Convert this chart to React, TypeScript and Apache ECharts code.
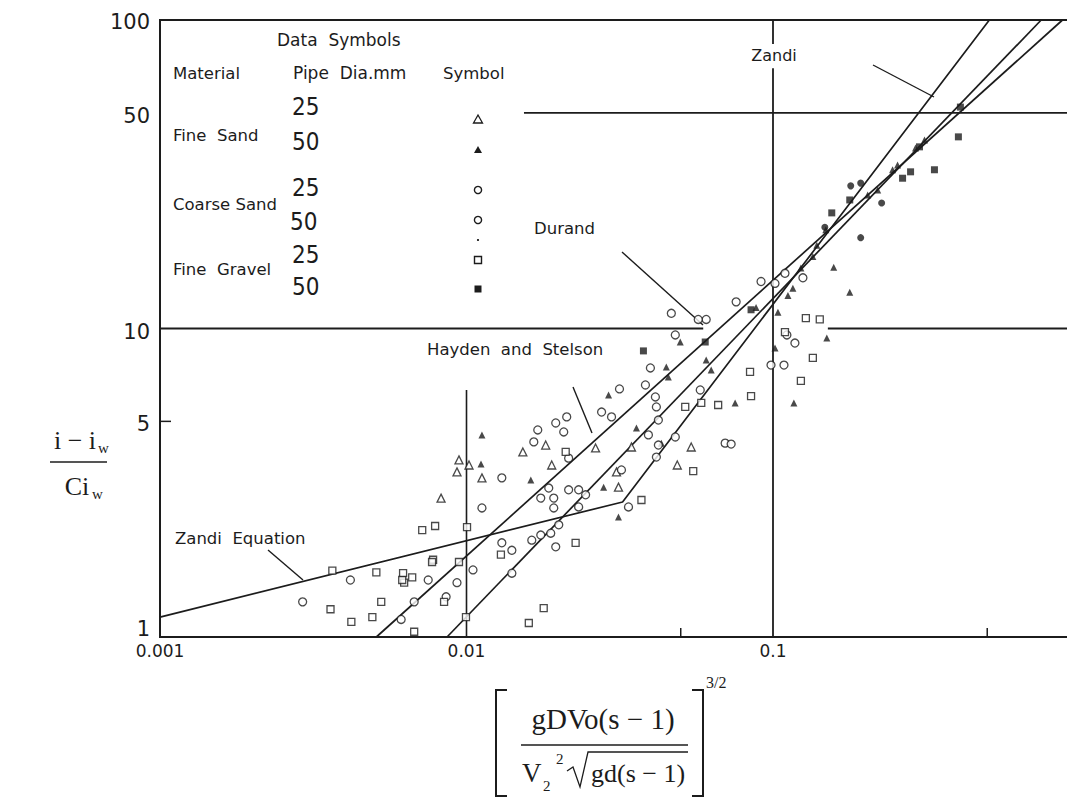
import React, { useEffect, useRef } from "react";
import * as echarts from "echarts";

// ---- axis ticks ----
const xTickValues = [0.001, 0.01, 0.1];
const xTickLabels = ["0.001", "0.01", "0.1"];
const yTickValues = [1, 5, 10, 50, 100];
const yTickLabels = ["1", "5", "10", "50", "100"];
const xMinorTicks = [0.05, 0.5];
const yMinorTicks = [5];

// ---- theory lines ----
const zandiEquation = [[0.001, 1.16], [0.0323, 2.74], [0.508, 100]];
const haydenStelson = [[0.00508, 1], [0.88, 100]];
const durand = [[0.00864, 1], [0.75, 100]];

// ---- partial reference lines ----
const line10a = [[0.001, 10], [0.0592, 10]];
const line10b = [[0.151, 10], [1, 10]];
const line50 = [[0.0154, 50], [1, 50]];
const vline01a = [[0.1, 1], [0.1, 69.8]];
const vline01b = [[0.1, 83.6], [0.1, 100]];
const vline001 = [[0.01, 1], [0.01, 6.32]];

// ---- data ----
const fineSand25 = [
  [0.00826, 2.82], [0.00945, 3.75], [0.00931, 3.43], [0.01019, 3.61], [0.01123, 3.28],
  [0.01527, 3.98], [0.01813, 4.19], [0.01897, 3.61], [0.02637, 4.1], [0.03132, 3.06],
  [0.03453, 4.13], [0.03086, 3.43], [0.04872, 3.61], [0.0541, 4.13],
];
const fineSand50 = [
  [0.01123, 4.52], [0.01115, 3.64], [0.01621, 3.23], [0.02907, 6.09], [0.02801, 3.06],
  [0.03132, 2.45], [0.03585, 4.76], [0.04323, 4.25], [0.04487, 7.5], [0.04555, 6.96],
  [0.04983, 9.04], [0.06054, 7.91], [0.06286, 7.34], [0.07524, 5.74], [0.1015, 8.65],
  [0.117, 5.74], [0.1498, 9.32], [0.1578, 15.8], [0.178, 13.1], [0.08805, 11.7],
  [0.1038, 11.3], [0.1119, 12.8], [0.1161, 13.5], [0.1233, 15.7], [0.1349, 17.1],
  [0.139, 18.6], [0.1487, 20.9], [0.2037, 27.1], [0.2196, 28.1], [0.2455, 32.7],
  [0.2549, 33.9], [0.2917, 38.5], [0.3121, 40.8],
];
const coarseSand25 = [
  [0.00292, 1.3], [0.00418, 1.53], [0.00612, 1.14], [0.00675, 1.3], [0.0075, 1.53],
  [0.00858, 1.35], [0.00931, 1.5], [0.0105, 1.65], [0.01123, 2.62], [0.01304, 3.28],
  [0.01406, 1.91], [0.01406, 1.61], [0.01304, 2.02], [0.01633, 2.06], [0.01747, 2.14],
  [0.01883, 2.17], [0.01955, 1.96], [0.01658, 4.29], [0.01708, 4.69], [0.01955, 4.94],
  [0.02123, 5.17], [0.02076, 4.62], [0.01855, 3.04], [0.01747, 2.82], [0.01926, 2.82],
  [0.01926, 2.62], [0.02154, 3.0], [0.02322, 3.0], [0.02447, 2.89], [0.02322, 2.64],
  [0.02, 2.31], [0.02154, 3.8], [0.02759, 5.36], [0.02973, 5.17], [0.03156, 6.37],
  [0.03377, 2.64], [0.03203, 3.48], [0.03922, 4.52], [0.04164, 5.57], [0.04133, 6.0],
  [0.04227, 5.05], [0.04227, 4.19], [0.04164, 3.83], [0.03981, 7.45], [0.03835, 6.56],
  [0.04659, 11.2], [0.048, 9.53], [0.05789, 6.32], [0.06981, 4.25], [0.07302, 4.22],
  [0.09851, 7.61], [0.1086, 7.61], [0.111, 9.53], [0.1179, 8.97], [0.06054, 10.7],
  [0.05703, 10.7], [0.07581, 12.2], [0.09141, 14.2], [0.1015, 14.0], [0.1094, 15.1],
  [0.1252, 14.6], [0.048, 4.45],
];
const coarseSand50 = [
  [0.1793, 29.0], [0.1932, 29.6], [0.2262, 25.5], [0.1476, 21.3], [0.1932, 19.7],
];
const fineGravel25 = [
  [0.00365, 1.64], [0.0036, 1.23], [0.00421, 1.12], [0.00493, 1.16], [0.00508, 1.62],
  [0.00527, 1.3], [0.00621, 1.61], [0.00626, 1.5], [0.00665, 1.56], [0.00675, 1.04],
  [0.00778, 1.78], [0.00717, 2.22], [0.0079, 2.29], [0.01004, 2.27], [0.00845, 1.3],
  [0.00996, 1.16], [0.00945, 1.75], [0.00772, 1.75], [0.00617, 1.53], [0.01295, 1.85],
  [0.01786, 1.24], [0.01597, 1.11], [0.02107, 3.98], [0.0227, 2.02], [0.03722, 2.78],
  [0.05492, 3.45], [0.05172, 5.57], [0.05833, 5.74], [0.06623, 5.65], [0.0848, 6.04],
  [0.08416, 7.23], [0.1094, 9.74], [0.1233, 6.76], [0.1349, 8.03], [0.128, 10.8],
  [0.1421, 10.7],
];
const fineGravel50 = [
  [0.03778, 8.46], [0.0601, 9.04], [0.0848, 11.5], [0.1555, 23.7], [0.178, 26.1],
  [0.2647, 30.7], [0.2811, 32.2], [0.3363, 32.7], [0.4026, 41.8], [0.3006, 38.8],
  [0.4087, 52.2],
];

const INK = "#1c1c1c";
const SANS = "DejaVu Sans, Verdana, sans-serif";
const NARROW = "DejaVu Sans Condensed, Liberation Sans Narrow, DejaVu Sans, sans-serif";
const SERIF = "Liberation Serif, Times New Roman, serif";

function txt(text: string, x: number, y: number, size: number, family: string, align = "left", va = "middle") {
  return {
    type: "text",
    x,
    y,
    silent: true,
    style: {
      text,
      fill: INK,
      font: `${size}px ${family}`,
      fontSize: size,
      fontFamily: family,
      align,
      verticalAlign: va,
      textAlign: align,
      textVerticalAlign: va,
    },
  };
}
function seg(x1: number, y1: number, x2: number, y2: number, w = 1.5) {
  return { type: "line", silent: true, shape: { x1, y1, x2, y2 }, style: { stroke: INK, lineWidth: w } };
}

export default function App() {
  const ref = useRef<HTMLDivElement>(null);
  useEffect(() => {
    const el = ref.current!;
    const chart = echarts.init(el, null, { renderer: "svg" });

    const lineS = (name: string, data: number[][], width = 1.6) => ({
      type: "line", name, data, symbol: "none", silent: true, z: 2,
      lineStyle: { color: INK, width }, clip: true,
    });
    const scat = (name: string, data: number[][], symbol: string, filled: boolean, size = 8) => ({
      type: "scatter", name, data, symbol, symbolSize: size, z: 5, silent: true,
      itemStyle: { color: filled ? INK : "#fff", borderColor: INK, borderWidth: filled ? 0 : 1.3 },
    });

    chart.setOption({
      animation: false,
      backgroundColor: "#fff",
      grid: { left: 160, top: 20, width: 919.5, height: 617, show: true, borderColor: INK, borderWidth: 2, backgroundColor: "transparent" },
      xAxis: {
        type: "log", logBase: 10, min: 0.001, max: 1,
        axisLine: { show: false }, axisTick: { show: false }, axisLabel: { show: false }, splitLine: { show: false },
      },
      yAxis: {
        type: "log", logBase: 10, min: 1, max: 100,
        axisLine: { show: false }, axisTick: { show: false }, axisLabel: { show: false }, splitLine: { show: false },
      },
      series: [
        lineS("10 line a", line10a, 1.8),
        lineS("10 line b", line10b, 1.8),
        lineS("50 line", line50, 1.8),
        lineS("0.1 line a", vline01a, 1.8),
        lineS("0.1 line b", vline01b, 1.8),
        lineS("0.01 line", vline001, 1.6),
        lineS("Zandi Equation", zandiEquation, 1.7),
        lineS("Hayden and Stelson", haydenStelson, 1.7),
        lineS("Durand", durand, 1.7),
        scat("Fine Sand 25", fineSand25, "triangle", false, 8),
        scat("Fine Sand 50", fineSand50, "triangle", true, 7),
        scat("Coarse Sand 25", coarseSand25, "circle", false, 8),
        scat("Coarse Sand 50", coarseSand50, "circle", true, 7),
        scat("Fine Gravel 25", fineGravel25, "rect", false, 7),
        scat("Fine Gravel 50", fineGravel50, "rect", true, 7),
      ],
    });

    const P = (x: number, y: number) => chart.convertToPixel({ gridIndex: 0 }, [x, y]) as number[];
    const g: any[] = [];

    // tick labels
    xTickValues.forEach((v, i) => {
      const p = P(v, 1);
      g.push(txt(xTickLabels[i], p[0], p[1] + 14, 17, SANS, "center"));
    });
    yTickValues.forEach((v, i) => {
      const p = P(0.001, v);
      const dy = v === 1 ? -8 : v === 100 ? 2 : 3;
      g.push(txt(yTickLabels[i], p[0] - 10, p[1] + dy, 21, SANS, "right"));
    });
    // minor ticks
    xMinorTicks.forEach((v) => {
      const p = P(v, 1);
      g.push(seg(p[0], p[1], p[0], p[1] - 9, 1.5));
    });
    yMinorTicks.forEach((v) => {
      const p = P(0.001, v);
      g.push(seg(p[0], p[1], p[0] + 11, p[1], 1.5));
    });

    // legend table
    g.push(txt("Data  Symbols", 277, 40, 17, SANS));
    g.push(txt("Material", 173, 73, 16.5, SANS));
    g.push(txt("Pipe  Dia.mm", 293, 73, 17, SANS));
    g.push(txt("Symbol", 443, 73, 16.5, SANS));
    g.push(txt("25", 292, 107, 24, NARROW));
    g.push(txt("Fine  Sand", 173, 135, 16.5, SANS));
    g.push(txt("50", 292, 142, 24, NARROW));
    g.push(txt("25", 292, 188, 24, NARROW));
    g.push(txt("Coarse Sand", 173, 204, 16.5, SANS));
    g.push(txt("50", 290, 222, 24, NARROW));
    g.push(txt("25", 292, 255, 24, NARROW));
    g.push(txt("Fine  Gravel", 173, 269, 16.5, SANS));
    g.push(txt("50", 292, 287, 24, NARROW));
    const sx = 478;
    g.push({ type: "polygon", silent: true, shape: { points: [[sx, 115], [sx + 4.5, 123], [sx - 4.5, 123]] }, style: { fill: "#fff", stroke: INK, lineWidth: 1.3 } });
    g.push({ type: "polygon", silent: true, shape: { points: [[sx, 146], [sx + 4, 153], [sx - 4, 153]] }, style: { fill: INK } });
    g.push({ type: "circle", silent: true, shape: { cx: sx, cy: 190, r: 3.6 }, style: { fill: "#fff", stroke: INK, lineWidth: 1.4 } });
    g.push({ type: "circle", silent: true, shape: { cx: sx, cy: 220, r: 3.6 }, style: { fill: "#fff", stroke: INK, lineWidth: 1.4 } });
    g.push({ type: "circle", silent: true, shape: { cx: sx, cy: 240, r: 1.1 }, style: { fill: INK } });
    g.push({ type: "rect", silent: true, shape: { x: sx - 3.5, y: 256.5, width: 7, height: 7 }, style: { fill: "#fff", stroke: INK, lineWidth: 1.4 } });
    g.push({ type: "rect", silent: true, shape: { x: sx - 3.5, y: 285.5, width: 7, height: 7 }, style: { fill: INK } });

    // curve annotations
    const p01 = P(0.1, 100);
    g.push(txt("Zandi", p01[0] + 1, 55, 16, SANS, "center"));
    g.push(seg(873, 65, 934, 97, 1.4));
    g.push(txt("Durand", 534, 228, 16.5, SANS));
    g.push(seg(622, 252, 703, 325, 1.4));
    g.push(txt("Hayden  and  Stelson", 427, 349, 16.5, SANS));
    g.push(seg(573, 387, 592, 433, 1.4));
    g.push(txt("Zandi  Equation", 175, 538, 16.5, SANS));
    g.push(seg(268, 550, 303, 580, 1.4));

    // y-axis title
    g.push(txt("i − i", 75, 440, 26, SERIF, "center"));
    g.push(txt("w", 98, 448, 15, SERIF));
    g.push(seg(50, 462, 107, 462, 1.4));
    g.push(txt("Ci", 77, 486, 26, SERIF, "center"));
    g.push(txt("w", 92, 494, 15, SERIF));

    // x-axis title
    g.push({ type: "polyline", silent: true, shape: { points: [[507, 690], [496, 690], [496, 796], [507, 796]] }, style: { stroke: INK, lineWidth: 2, fill: "none" } });
    g.push({ type: "polyline", silent: true, shape: { points: [[692, 690], [703, 690], [703, 796], [692, 796]] }, style: { stroke: INK, lineWidth: 2, fill: "none" } });
    g.push(txt("3/2", 706, 682, 16, SERIF));
    g.push(txt("gDVo(s − 1)", 603, 719, 29, SERIF, "center"));
    g.push(seg(521, 745, 688, 745, 1.5));
    g.push(txt("V", 522, 773, 27, SERIF));
    g.push(txt("2", 543, 786, 15, SERIF));
    g.push(txt("2", 556, 759, 15, SERIF));
    g.push({ type: "polyline", silent: true, shape: { points: [[567, 771], [573, 767], [580, 787], [588, 752], [688, 752]] }, style: { stroke: INK, lineWidth: 1.3, fill: "none" } });
    g.push(txt("gd(s − 1)", 591, 773, 26, SERIF));

    chart.setOption({ graphic: { elements: g } });
    return () => chart.dispose();
  }, []);
  return (
    <div style={{ position: "absolute", left: 0, top: 0, width: 1067, height: 797, overflow: "hidden", background: "#fff" }}>
      <div ref={ref} style={{ position: "absolute", left: 0, top: 0, width: 1110, height: 797 }} />
    </div>
  );
}
